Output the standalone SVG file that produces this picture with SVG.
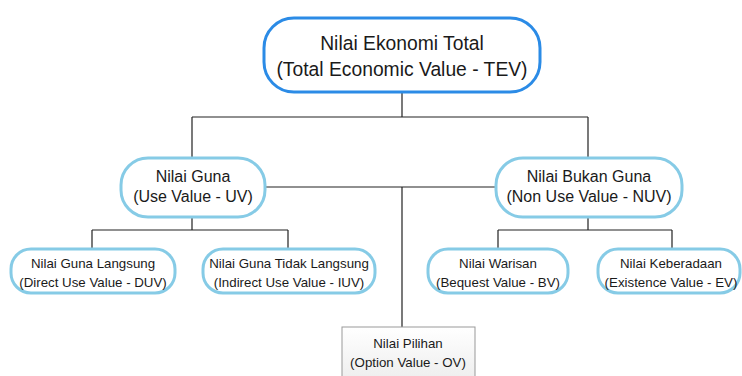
<svg xmlns="http://www.w3.org/2000/svg" width="742" height="376" viewBox="0 0 742 376">
<defs>
<linearGradient id="og" x1="0" y1="0" x2="0" y2="1"><stop offset="0" stop-color="#ffffff"/><stop offset="1" stop-color="#eeeeee"/></linearGradient>
</defs>
<style>
text{font-family:"Liberation Sans",Arial,sans-serif;fill:#1a1a1a;text-anchor:middle}
.c{fill:none;stroke:#222;stroke-width:1.2}
.main{fill:#fff;stroke:#2b8be6;stroke-width:3}
.n{fill:#fff;stroke:#86cbe6;stroke-width:3}
.t1{font-size:19.3px}
.t2{font-size:16px}
.t3{font-size:13.3px}
</style>
<rect width="742" height="376" fill="#fff"/>
<g id="connectors">
<path class="c" d="M402 92V117M192 117H588M192 117V158M588 117V158"/>
<path class="c" d="M265 187H496M402 187V327"/>
<path class="c" d="M192 217V230M92 230H288M92 230V248M288 230V248"/>
<path class="c" d="M588 217V230M498 230H672M498 230V248M672 230V248"/>
</g>
<g id="tev">
<rect class="main" x="264" y="18" width="276" height="74" rx="30"/>
<text class="t1" x="402" y="50">Nilai Ekonomi Total</text>
<text class="t1" x="402" y="76">(Total Economic Value - TEV)</text>
</g>
<g id="uv">
<rect class="n" x="121" y="158" width="144" height="59" rx="27"/>
<text class="t2" x="193" y="182">Nilai Guna</text>
<text class="t2" x="193" y="202">(Use Value - UV)</text>
</g>
<g id="nuv">
<rect class="n" x="496" y="158" width="186" height="59" rx="27"/>
<text class="t2" x="589" y="182">Nilai Bukan Guna</text>
<text class="t2" x="589" y="202">(Non Use Value - NUV)</text>
</g>
<g id="duv">
<rect class="n" x="11" y="249" width="164" height="44" rx="20"/>
<text class="t3" x="93" y="268">Nilai Guna Langsung</text>
<text class="t3" x="93" y="287">(Direct Use Value - DUV)</text>
</g>
<g id="iuv">
<rect class="n" x="203" y="249" width="172" height="44" rx="20"/>
<text class="t3" x="289" y="268">Nilai Guna Tidak Langsung</text>
<text class="t3" x="289" y="287">(Indirect Use Value - IUV)</text>
</g>
<g id="bv">
<rect class="n" x="428" y="249" width="140" height="44" rx="20"/>
<text class="t3" x="498" y="268">Nilai Warisan</text>
<text class="t3" x="498" y="287">(Bequest Value - BV)</text>
</g>
<g id="ev">
<rect class="n" x="598" y="249" width="142" height="44" rx="20"/>
<text class="t3" x="671" y="268">Nilai Keberadaan</text>
<text class="t3" x="671" y="287">(Existence Value - EV)</text>
</g>
<g id="ov">
<rect x="342" y="327" width="133" height="52" fill="url(#og)" stroke="#999" stroke-width="1"/>
<text class="t3" x="408" y="348">Nilai Pilihan</text>
<text class="t3" x="408" y="367">(Option Value - OV)</text>
</g>
</svg>
